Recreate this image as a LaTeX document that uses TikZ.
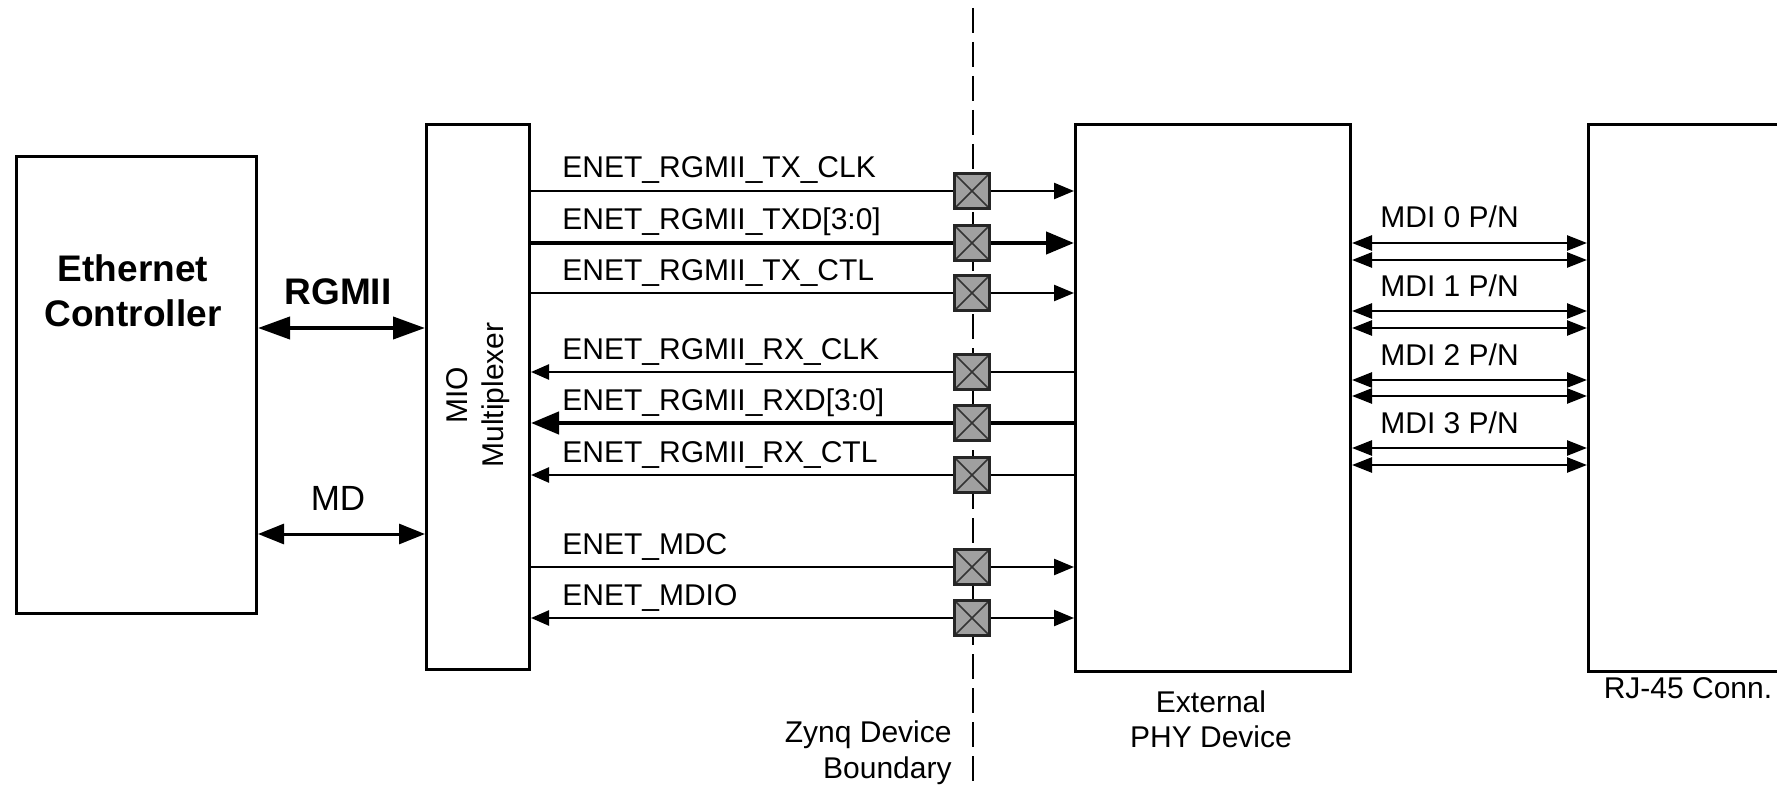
\documentclass[tikz,border=0pt]{standalone}
\usepackage{fontspec}
\setmainfont{Liberation Sans}
\usetikzlibrary{arrows.meta}
\definecolor{padgray}{RGB}{160,160,160}
\begin{document}
\begin{tikzpicture}[x=0.5pt,y=0.5pt,
  box/.style={draw=black, line width=1.5pt, rectangle, inner sep=0pt, anchor=north west},
  lbl/.style={font=\fontsize{15pt}{18pt}\selectfont, inner sep=0pt, anchor=base west},
  clbl/.style={font=\fontsize{15pt}{18pt}\selectfont, inner sep=0pt, anchor=base},
  blbl/.style={font=\fontsize{18.5pt}{22pt}\selectfont\bfseries, inner sep=0pt, anchor=base},
  sig/.style={line width=1.2pt},
  bus/.style={line width=2.2pt},
  sigR/.style={sig, -{Triangle[length=10pt,width=8pt]}},
  sigL/.style={sig, {Triangle[length=9pt,width=7.5pt]}-},
  sigLR/.style={sig, {Triangle[length=9pt,width=7.5pt]}-{Triangle[length=10pt,width=8pt]}},
  busR/.style={bus, -{Triangle[length=14pt,width=11pt]}},
  busL/.style={bus, {Triangle[length=14pt,width=11pt]}-},
  mdi/.style={line width=1.3pt, {Triangle[length=10pt,width=7.5pt]}-{Triangle[length=10pt,width=7.5pt]}},
  pad/.style={draw=black!85, fill=padgray, line width=1.3pt, minimum size=17.5pt, inner sep=0pt,
    path picture={\draw[black!80, line width=0.8pt]
      (path picture bounding box.north west) -- (path picture bounding box.south east)
      (path picture bounding box.north east) -- (path picture bounding box.south west);}},
  boundary/.style={line width=1.2pt, dash pattern=on 12.5pt off 4.5pt, dash phase=13pt}
]
\useasboundingbox (0,0) rectangle (1777,-786);
\clip (0,0) rectangle (1777,-786);

% boxes
\node[box, minimum width=120pt, minimum height=228.5pt] (ec) at (15,-155) {};
\node[box, minimum width=51.5pt, minimum height=272.5pt] (mio) at (425,-123) {};
\node[box, minimum width=137.5pt, minimum height=273.5pt] (phy) at (1074,-123) {};
\node[box, minimum width=110pt, minimum height=273.5pt] (rj) at (1587,-123) {};

% device boundary
\coordinate (bt) at (973,0);
\coordinate (bb) at (973,-786);
\draw[boundary] (bt) -- (bb);

% box labels
\node[blbl] (ec1) at (133,-282) {Ethernet};
\node[blbl] (ec2) at (133,-327) {Controller};
\node[clbl, rotate=90] (mio1) at (467,-395) {MIO};
\node[clbl, rotate=90] (mio2) at (503,-395) {Multiplexer};
\node[clbl] (phy1) at (1211,-712) {External};
\node[clbl] (phy2) at (1211,-747) {PHY Device};
\node[clbl] (rj1) at (1688,-698) {RJ-45 Conn.};
\node[font=\fontsize{15pt}{18pt}\selectfont, inner sep=0pt, anchor=base east] (zb1) at (952,-742) {Zynq Device};
\node[font=\fontsize{15pt}{18pt}\selectfont, inner sep=0pt, anchor=base east] (zb2) at (952,-778) {Boundary};

% controller to MIO
\coordinate (yrg) at (0,-328);
\coordinate (ymd) at (0,-534);
\draw[line width=2pt, {Triangle[length=16pt,width=11pt]}-{Triangle[length=16pt,width=11pt]}] (ec.east |- yrg) -- (mio.west |- yrg);
\draw[line width=1.5pt, {Triangle[length=13pt,width=10pt]}-{Triangle[length=13pt,width=10pt]}] (ec.east |- ymd) -- (mio.west |- ymd);
\node[blbl] (lrg) at (338,-305) {RGMII};
\node[font=\fontsize{17.5pt}{21pt}\selectfont, inner sep=0pt, anchor=base] (lmd) at (338,-510) {MD};

% signal rows
\coordinate (s1) at (972,-191);
\coordinate (s2) at (972,-243);
\coordinate (s3) at (972,-293);
\coordinate (s4) at (972,-372);
\coordinate (s5) at (972,-423);
\coordinate (s6) at (972,-475);
\coordinate (s7) at (972,-567);
\coordinate (s8) at (972,-618);

\draw[sigR] (mio.east |- s1) -- (phy.west |- s1);
\draw[busR] (mio.east |- s2) -- (phy.west |- s2);
\draw[sigR] (mio.east |- s3) -- (phy.west |- s3);
\draw[sigL] (mio.east |- s4) -- (phy.west |- s4);
\draw[busL] (mio.east |- s5) -- (phy.west |- s5);
\draw[sigL] (mio.east |- s6) -- (phy.west |- s6);
\draw[sigR] (mio.east |- s7) -- (phy.west |- s7);
\draw[sigLR] (mio.east |- s8) -- (phy.west |- s8);

\node[pad] (p1) at (s1) {};
\node[pad] (p2) at (s2) {};
\node[pad] (p3) at (s3) {};
\node[pad] (p4) at (s4) {};
\node[pad] (p5) at (s5) {};
\node[pad] (p6) at (s6) {};
\node[pad] (p7) at (s7) {};
\node[pad] (p8) at (s8) {};

\node[lbl] (t1) at (562,-178) {ENET\_RGMII\_TX\_CLK};
\node[lbl] (t2) at (562,-230) {ENET\_RGMII\_TXD[3:0]};
\node[lbl] (t3) at (562,-280) {ENET\_RGMII\_TX\_CTL};
\node[lbl] (t4) at (562,-359) {ENET\_RGMII\_RX\_CLK};
\node[lbl] (t5) at (562,-410) {ENET\_RGMII\_RXD[3:0]};
\node[lbl] (t6) at (562,-462) {ENET\_RGMII\_RX\_CTL};
\node[lbl] (t7) at (562,-554) {ENET\_MDC};
\node[lbl] (t8) at (562,-605) {ENET\_MDIO};

% MDI pairs
\coordinate (m0a) at (1450,-243); \coordinate (m0b) at (1450,-260);
\coordinate (m1a) at (1450,-311); \coordinate (m1b) at (1450,-328);
\coordinate (m2a) at (1450,-380); \coordinate (m2b) at (1450,-396);
\coordinate (m3a) at (1450,-448); \coordinate (m3b) at (1450,-465);
\draw[mdi] (phy.east |- m0a) -- (rj.west |- m0a);
\draw[mdi] (phy.east |- m0b) -- (rj.west |- m0b);
\draw[mdi] (phy.east |- m1a) -- (rj.west |- m1a);
\draw[mdi] (phy.east |- m1b) -- (rj.west |- m1b);
\draw[mdi] (phy.east |- m2a) -- (rj.west |- m2a);
\draw[mdi] (phy.east |- m2b) -- (rj.west |- m2b);
\draw[mdi] (phy.east |- m3a) -- (rj.west |- m3a);
\draw[mdi] (phy.east |- m3b) -- (rj.west |- m3b);
\node[lbl] (d0) at (1380,-228) {MDI 0 P/N};
\node[lbl] (d1) at (1380,-296) {MDI 1 P/N};
\node[lbl] (d2) at (1380,-365) {MDI 2 P/N};
\node[lbl] (d3) at (1380,-433) {MDI 3 P/N};
\end{tikzpicture}
\end{document}
